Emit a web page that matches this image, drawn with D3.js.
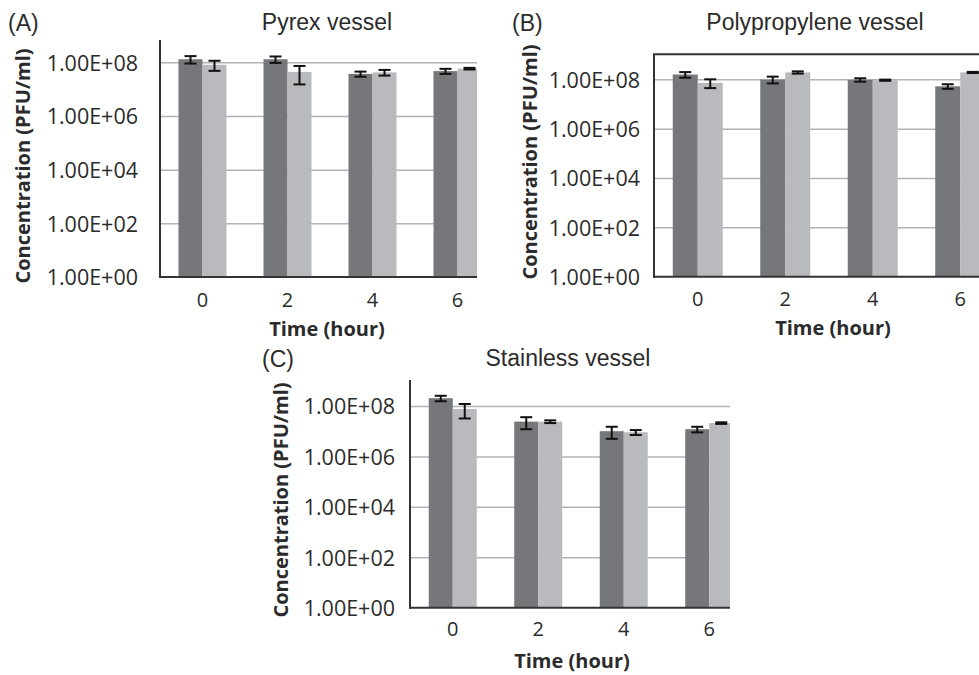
<!DOCTYPE html>
<html>
<head>
<meta charset="utf-8">
<script src="https://cdn.jsdelivr.net/npm/d3@7"></script>
<style>
  html, body { margin: 0; padding: 0; background: #fff; }
  svg { display: block; }
</style>
</head>
<body>
<svg id="chart" width="979" height="675"></svg>
<script>
// ---------- DATA ----------
const categories = ["0", "2", "4", "6"];
const yTickValues = [1, 1e2, 1e4, 1e6, 1e8];
const yTickLabels = ["1.00E+00", "1.00E+02", "1.00E+04", "1.00E+06", "1.00E+08"];
const panelTitles = ["Pyrex vessel", "Polypropylene vessel", "Stainless vessel"];
const panelLetters = ["(A)", "(B)", "(C)"];
const xAxisTitle = "Time (hour)";
const yAxisTitle = "Concentration (PFU/ml)";

// Pyrex
const pyrexDark      = [1.3e8, 1.3e8, 3.7e7, 4.7e7];
const pyrexDarkErr   = [0.4e8, 0.35e8, 0.8e7, 1.0e7];
const pyrexLight     = [8.1e7, 4.4e7, 4.2e7, 5.8e7];
const pyrexLightErr  = [3.3e7, 2.9e7, 1.0e7, 0.4e7];
// Polypropylene
const polyDark       = [1.56e8, 9.8e7, 9.5e7, 5.2e7];
const polyDarkErr    = [0.4e8, 3.0e7, 1.5e7, 1.1e7];
const polyLight      = [7.2e7, 1.9e8, 9.2e7, 1.9e8];
const polyLightErr   = [2.8e7, 0.2e8, 0.5e7, 0.1e8];
// Stainless
const steelDark      = [2.04e8, 2.4e7, 1.0e7, 1.2e7];
const steelDarkErr   = [0.5e8, 1.2e7, 5e6, 3e6];
const steelLight     = [7.6e7, 2.4e7, 9.1e6, 2.1e7];
const steelLightErr  = [4.4e7, 0.3e7, 2e6, 1.5e6];

// ---------- LAYOUT (styles / positions) ----------
const darkColor = "#76777b";
const lightColor = "#b9babd";
const gridColor = "#b3b3b3";
const axisColor = "#333333";
const textColor = "#2b2b2b";

const panels = [
  { x0: 160, clipRight: 477, yBase: 277, y8: 62.3, axisTop: 40, band: 85, barW: 24, box: false,
    titleX: 327, titleY: 30, letterX: 8, letterY: 31, yTitleX: 23, yTitleY: 166,
    tickRight: 138, xTickY: 307, xTitleX: 327, xTitleY: 336,
    dark: pyrexDark, darkErr: pyrexDarkErr, light: pyrexLight, lightErr: pyrexLightErr },
  { x0: 654, clipRight: 979, yBase: 276.7, y8: 79.3, axisTop: 54.3, band: 87.5, barW: 25, box: true,
    titleX: 815, titleY: 30, letterX: 512, letterY: 31, yTitleX: 530, yTitleY: 162,
    tickRight: 640, xTickY: 306, xTitleX: 833, xTitleY: 335,
    dark: polyDark, darkErr: polyDarkErr, light: polyLight, lightErr: polyLightErr },
  { x0: 410, clipRight: 730, yBase: 607.7, y8: 406, axisTop: 380, band: 85.5, barW: 24, box: false,
    titleX: 568, titleY: 366, letterX: 262, letterY: 367, yTitleX: 281, yTitleY: 500,
    tickRight: 395, xTickY: 636, xTitleX: 572, xTitleY: 668,
    dark: steelDark, darkErr: steelDarkErr, light: steelLight, lightErr: steelLightErr }
];

const svg = d3.select("#chart");
const defs = svg.append("defs");

panels.forEach((p, i) => {
  const g = svg.append("g");
  const x = d3.scaleBand().domain(categories).range([p.x0, p.x0 + p.band * categories.length]).padding(0);
  const y = d3.scaleLog().domain([1, 1e8]).range([p.yBase, p.y8]);

  const clipId = "clip" + i;
  defs.append("clipPath").attr("id", clipId)
    .append("rect").attr("x", p.x0).attr("y", 0).attr("width", p.clipRight - p.x0).attr("height", 675);

  const plot = g.append("g").attr("clip-path", `url(#${clipId})`);

  // gridlines
  const grid = plot.append("g").attr("transform", `translate(${p.x0},0)`)
    .call(d3.axisLeft(y).tickValues(yTickValues.slice(1)).tickSize(-(p.clipRight - p.x0)).tickFormat(""));
  grid.select(".domain").remove();
  grid.selectAll(".tick line").attr("stroke", gridColor).attr("stroke-width", 1.5);

  // bars
  const series = [
    { vals: p.dark, errs: p.darkErr, color: darkColor, off: -p.barW },
    { vals: p.light, errs: p.lightErr, color: lightColor, off: 0 }
  ];
  series.forEach(s => {
    plot.append("g").selectAll("rect").data(categories).join("rect")
      .attr("x", (c) => x(c) + x.bandwidth() / 2 + s.off)
      .attr("width", p.barW)
      .attr("y", (c, j) => y(s.vals[j]))
      .attr("height", (c, j) => p.yBase - y(s.vals[j]))
      .attr("fill", s.color);
  });
  // error bars
  series.forEach(s => {
    const eg = plot.append("g").attr("stroke", "#111").attr("stroke-width", 2);
    categories.forEach((c, j) => {
      const cx = x(c) + x.bandwidth() / 2 + s.off + p.barW / 2;
      const yt = y(s.vals[j] + s.errs[j]);
      const yb = y(Math.max(s.vals[j] - s.errs[j], 1));
      eg.append("line").attr("x1", cx).attr("x2", cx).attr("y1", yt).attr("y2", yb);
      eg.append("line").attr("x1", cx - 6).attr("x2", cx + 6).attr("y1", yt).attr("y2", yt);
      eg.append("line").attr("x1", cx - 6).attr("x2", cx + 6).attr("y1", yb).attr("y2", yb);
    });
  });

  // axes lines
  g.append("line").attr("x1", p.x0).attr("x2", p.x0).attr("y1", p.axisTop).attr("y2", p.yBase + 1)
    .attr("stroke", axisColor).attr("stroke-width", 2);
  g.append("line").attr("x1", p.x0 - 1).attr("x2", p.clipRight).attr("y1", p.yBase).attr("y2", p.yBase)
    .attr("stroke", axisColor).attr("stroke-width", 2);
  if (p.box) {
    g.append("line").attr("x1", p.x0 - 1).attr("x2", p.clipRight).attr("y1", p.axisTop).attr("y2", p.axisTop)
      .attr("stroke", axisColor).attr("stroke-width", 2);
  }

  // y tick labels
  const ya = g.append("g").attr("transform", `translate(${p.tickRight},0)`)
    .call(d3.axisLeft(y).tickValues(yTickValues).tickSize(0).tickPadding(0)
      .tickFormat((v) => yTickLabels[yTickValues.indexOf(v)]));
  ya.select(".domain").remove();
  ya.selectAll("text").attr("font-family", "'Open Sans', sans-serif").attr("font-size", 21.5)
    .attr("fill", textColor).attr("dy", "0.36em");

  // x tick labels
  const xa = g.append("g").attr("transform", `translate(0,${p.xTickY})`)
    .call(d3.axisBottom(x).tickSize(0).tickPadding(0));
  xa.select(".domain").remove();
  xa.selectAll("text").attr("font-family", "'Open Sans', sans-serif").attr("font-size", 20)
    .attr("fill", textColor).attr("dy", 0).attr("y", 0);

  // titles
  g.append("text").attr("x", p.titleX).attr("y", p.titleY).attr("text-anchor", "middle")
    .attr("font-family", "'Liberation Sans', Arial, sans-serif").attr("font-size", 23)
    .attr("fill", textColor).text(panelTitles[i]);
  g.append("text").attr("x", p.letterX).attr("y", p.letterY)
    .attr("font-family", "'Liberation Sans', Arial, sans-serif").attr("font-size", 23)
    .attr("fill", textColor).text(panelLetters[i]);
  g.append("text").attr("x", p.xTitleX).attr("y", p.xTitleY).attr("text-anchor", "middle")
    .attr("font-family", "'Open Sans', sans-serif").attr("font-weight", "bold").attr("font-size", 20)
    .attr("fill", textColor).text(xAxisTitle);
  g.append("text")
    .attr("transform", `translate(${p.yTitleX},${p.yTitleY}) rotate(-90)`)
    .attr("text-anchor", "middle").attr("dy", "0.36em")
    .attr("font-family", "'Open Sans', sans-serif").attr("font-weight", "bold").attr("font-size", 20)
    .attr("fill", textColor).text(yAxisTitle);
});
</script>
</body>
</html>
